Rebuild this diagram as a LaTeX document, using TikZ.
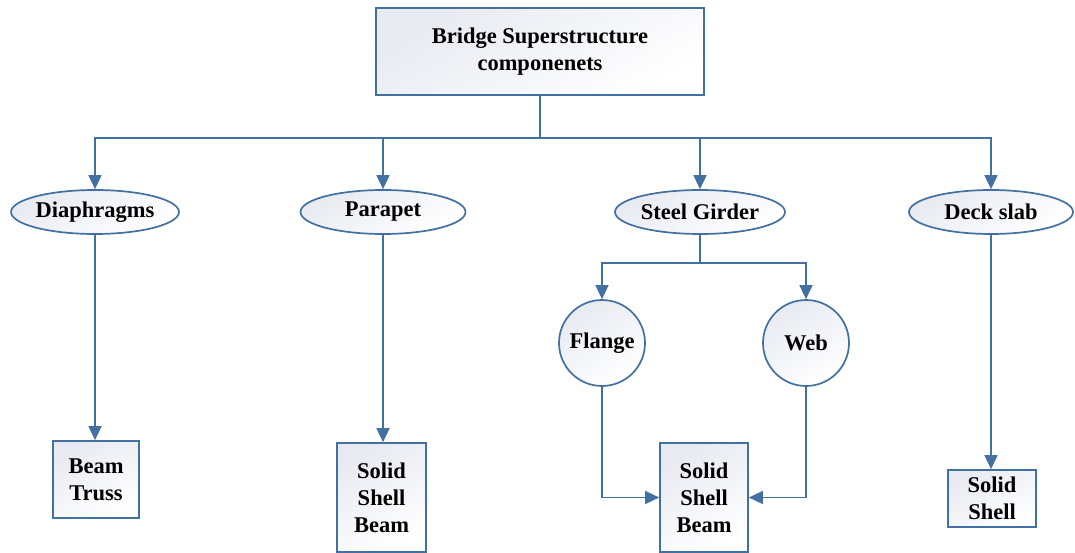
\documentclass[tikz,border=0pt]{standalone}
\usepackage{fontspec}
\setmainfont{Liberation Serif}
\usetikzlibrary{shapes.geometric,arrows.meta}
\definecolor{lc}{RGB}{66,112,160}
\definecolor{fc}{RGB}{232,234,241}
\tikzset{
  base/.style={draw=lc,line width=1.7pt,font=\bfseries\fontsize{22.5}{27}\selectfont,align=center,inner sep=0pt,
     top color=fc,bottom color=white,shading angle=30},
  boxn/.style={base,rectangle},
  elln/.style={base,ellipse,minimum width=166pt,minimum height=44pt},
  circn/.style={base,circle,minimum size=86pt},
  conn/.style={draw=lc,line width=1.7pt},
  arr/.style={conn,-{Triangle[width=13pt,length=14pt]}},
}
\begin{document}
\begin{tikzpicture}[x=1pt,y=-1pt]
\useasboundingbox (0,0) rectangle (1075,553);
\node[boxn,minimum width=328pt,minimum height=87pt] (top) at (540,51.5) {Bridge Superstructure\\componenets};
\node[elln] (dia) at (95,212) {Diaphragms};
\node[elln,minimum width=165pt] (par) at (383,212) {Parapet};
\node[elln,minimum width=170pt] (sg) at (700,212) {Steel Girder};
\node[elln,minimum width=164pt] (ds) at (991,212) {Deck slab};
\node[circn] (fl) at (602,343) {Flange};
\node[circn] (web) at (806,343) {Web};
\node[boxn,minimum width=86pt,minimum height=77pt] (bt) at (96,479.5) {Beam\\Truss};
\node[boxn,minimum width=89pt,minimum height=109pt] (pb) at (381.5,497.5) {Solid\\Shell\\Beam};
\node[boxn,minimum width=88pt,minimum height=109pt] (gb) at (704,497.5) {Solid\\Shell\\Beam};
\node[boxn,minimum width=88pt,minimum height=57pt] (db) at (992,498.5) {Solid\\Shell};
\draw[conn] (top.south) -- ++(0,42) coordinate (bus);
\draw[arr] (bus) -| (dia.north);
\draw[arr] (bus) -| (par.north);
\draw[arr] (bus) -| (sg.north);
\draw[arr] (bus) -| (ds.north);
\draw[arr] (dia.south) -- (dia.south |- bt.north);
\draw[arr] (par.south) -- (par.south |- pb.north);
\draw[arr] (ds.south) -- (ds.south |- db.north);
\draw[conn] (sg.south) -- ++(0,28) coordinate (gbus);
\draw[arr] (gbus) -| (fl.north);
\draw[arr] (gbus) -| (web.north);
\draw[arr] (fl.south) |- (gb.west);
\draw[arr] (web.south) |- (gb.east);
\end{tikzpicture}
\end{document}
